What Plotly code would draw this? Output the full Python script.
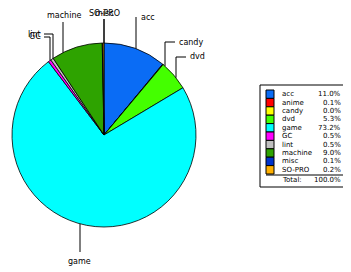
import math
import plotly.graph_objects as go

# ---- data ----
categories = ["acc", "anime", "candy", "dvd", "game", "GC", "lint", "machine", "misc", "SO-PRO"]
shares = [11.0, 0.1, 0.0, 5.3, 73.2, 0.5, 0.5, 9.0, 0.1, 0.2]
total_text = "100.0%"
colors = ["#0a6cf5", "#ff0000", "#ffff00", "#44ff00", "#00ffff", "#ff00ff",
          "#c0c0c0", "#2ea300", "#0033cc", "#ffb000"]

# the page body has an 8px margin, so the figure is drawn 8px in from the window corner
OFF = 8
W, H = 351 - OFF, 272 - OFF
CX, CY, R = 104, 135, 92

def px(x):
    return (x - OFF) / W

def py(y):
    return 1 - (y - OFF) / H

fig = go.Figure()
fig.add_trace(go.Pie(
    values=shares, labels=categories, sort=False, direction="clockwise", rotation=0,
    textinfo="none", hoverinfo="label+percent",
    marker=dict(colors=colors, line=dict(color="black", width=0.8)),
    domain=dict(x=[px(CX - R), px(CX + R)], y=[py(CY + R), py(CY - R)]),
    showlegend=False,
))

shapes = []
annotations = []
FONT = dict(family="DejaVu Sans", size=8, color="black")

# callouts: (name, leader x, elbow y, horizontal end x or None, text x, text y, anchor, side)
callouts = [
    ("SO-PRO", 104, 19, None, 104, 13.5, "center", "top"),
    ("misc", 104, 19, None, 104, 13.5, "center", "top"),
    ("acc", 136, 17, None, 139, 18, "left", "top"),
    ("candy", 165, 42, 175, 177, 42, "left", "top"),
    ("dvd", 176, 57, 186, 188, 57, "left", "top"),
    ("machine", 63, 22, None, 64, 16, "center", "top"),
    ("lint", 53, 34, 44, 43, 34, "right", "top"),
    ("GC", 50, 37, 44, 43, 36, "right", "top"),
    ("game", 80, 252, None, 79, 261, "center", "bottom"),
]
for name, lx, ey, hx, tx, ty, anchor, side in callouts:
    d = math.sqrt(max(R * R - (lx - CX) ** 2, 0))
    edge_y = CY - d if side == "top" else CY + d
    path = f"M {px(lx)},{py(edge_y)} L {px(lx)},{py(ey)}"
    if hx is not None:
        path += f" L {px(hx)},{py(ey)}"
    shapes.append(dict(type="path", xref="paper", yref="paper", path=path,
                       line=dict(color="black", width=1)))
    annotations.append(dict(x=px(tx), y=py(ty), xref="paper", yref="paper", text=name,
                            showarrow=False, xanchor=anchor, yanchor="middle", font=FONT))

# custom legend table
BOX = (260, 85, 347, 187)
shapes.append(dict(type="rect", xref="paper", yref="paper",
                   x0=px(BOX[0]), x1=px(BOX[2]), y0=py(BOX[3]), y1=py(BOX[1]),
                   line=dict(color="black", width=1), fillcolor="white", layer="below"))
ROW0, ROWH = 90, 8.4
LFONT = dict(family="DejaVu Sans", size=7, color="black")
for i, (c, v, col) in enumerate(zip(categories, shares, colors)):
    y0 = ROW0 + i * ROWH
    shapes.append(dict(type="rect", xref="paper", yref="paper",
                       x0=px(266), x1=px(274), y0=py(y0 + ROWH), y1=py(y0),
                       line=dict(color="black", width=1), fillcolor=col))
    annotations.append(dict(x=px(280), y=py(y0 + ROWH / 2), xref="paper", yref="paper",
                            text=c, showarrow=False, xanchor="left", yanchor="middle", font=LFONT))
    annotations.append(dict(x=px(343), y=py(y0 + ROWH / 2), xref="paper", yref="paper",
                            text=f"{v:.1f}%", showarrow=False, xanchor="right", yanchor="middle",
                            font=LFONT))
line_y = ROW0 + len(categories) * ROWH + 1
shapes.append(dict(type="line", xref="paper", yref="paper", x0=px(266), x1=px(343),
                   y0=py(line_y), y1=py(line_y), line=dict(color="black", width=1)))
annotations.append(dict(x=px(280), y=py(line_y + 5), xref="paper", yref="paper", text="Total:",
                        showarrow=False, xanchor="left", yanchor="middle", font=LFONT))
annotations.append(dict(x=px(343), y=py(line_y + 5), xref="paper", yref="paper", text=total_text,
                        showarrow=False, xanchor="right", yanchor="middle", font=LFONT))

fig.update_layout(
    width=W, height=H, margin=dict(l=0, r=0, t=0, b=0),
    paper_bgcolor="white", plot_bgcolor="white",
    shapes=shapes, annotations=annotations,
)
fig.write_html("out.html")
